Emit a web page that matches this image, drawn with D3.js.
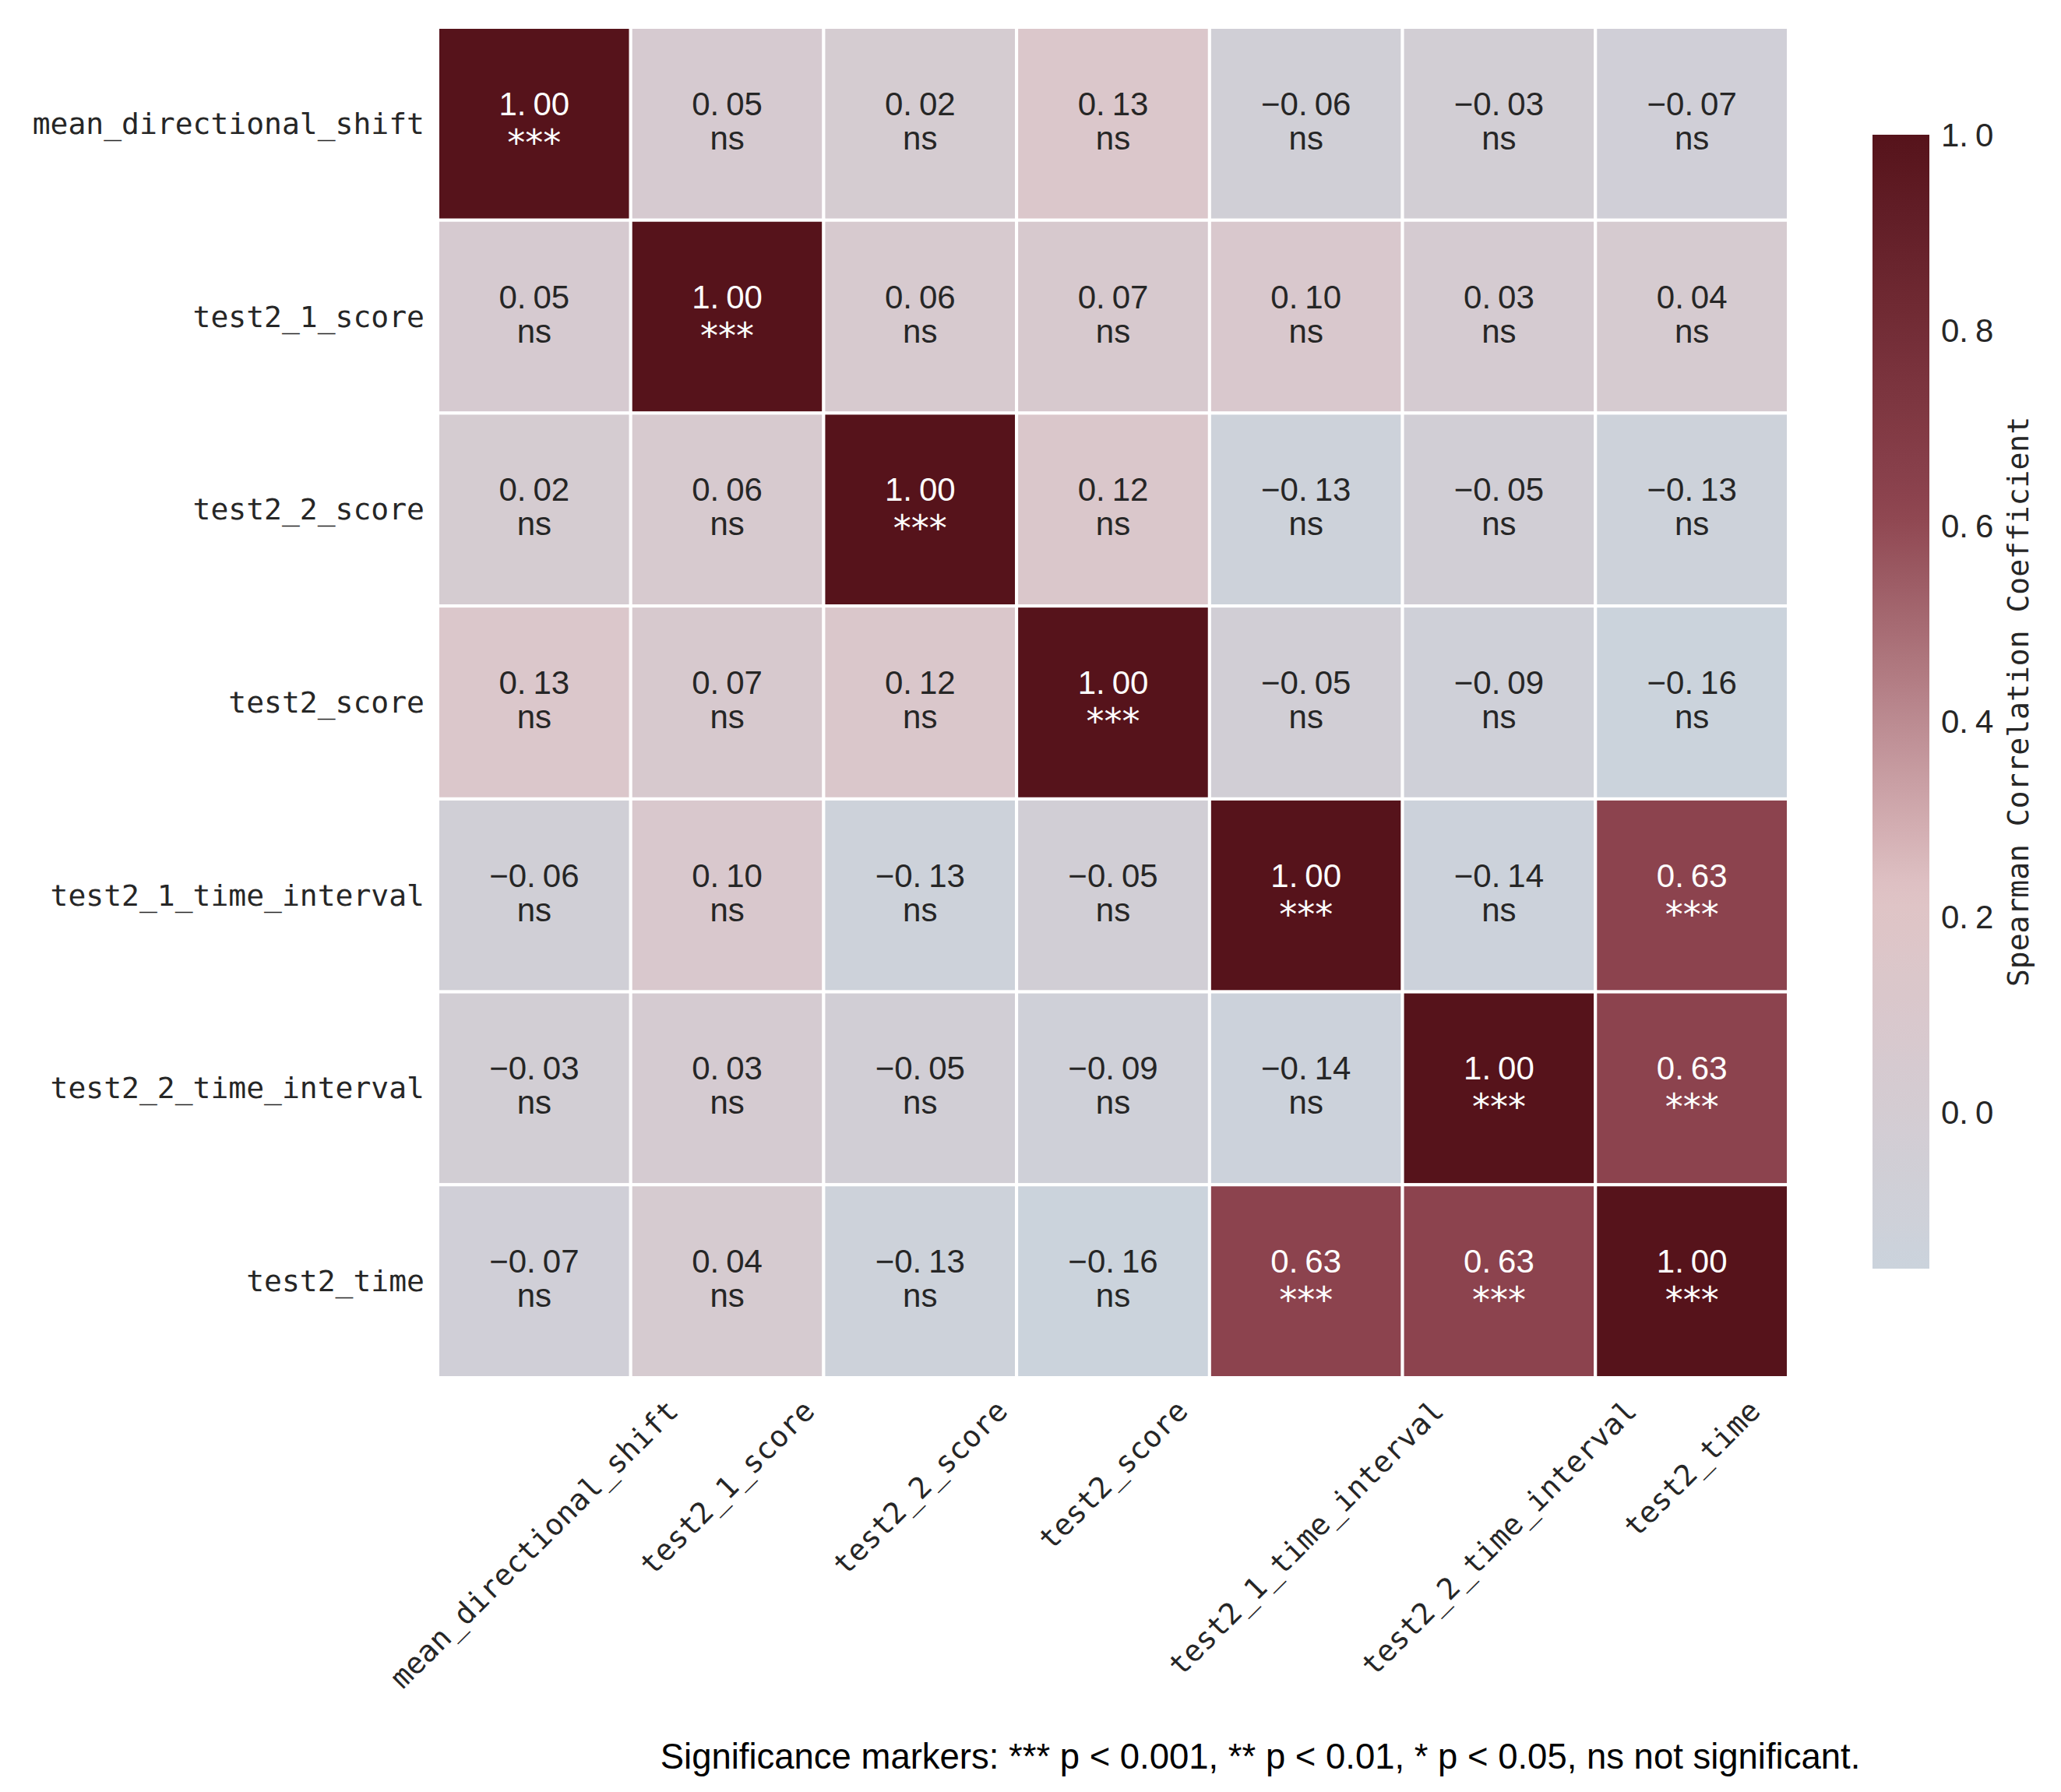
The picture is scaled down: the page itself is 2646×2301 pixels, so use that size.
<!DOCTYPE html>
<html>
<head>
  <meta charset="utf-8">
  <title>Spearman Correlation Heatmap</title>
  <style>
    body { margin: 0; background: #fff; }
    text { fill: #262626; }
  </style>
</head>
<body>
  <script src="https://d3js.org/d3.v7.min.js"></script>
  <script>
    // variables (same order for rows and columns)
    const variables = [
      "mean_directional_shift",
      "test2_1_score",
      "test2_2_score",
      "test2_score",
      "test2_1_time_interval",
      "test2_2_time_interval",
      "test2_time"
    ];

    // spearman coefficients, row by row
    const corrValues = [
      [1.00, 0.05, 0.02, 0.13, -0.06, -0.03, -0.07],
      [0.05, 1.00, 0.06, 0.07, 0.10, 0.03, 0.04],
      [0.02, 0.06, 1.00, 0.12, -0.13, -0.05, -0.13],
      [0.13, 0.07, 0.12, 1.00, -0.05, -0.09, -0.16],
      [-0.06, 0.10, -0.13, -0.05, 1.00, -0.14, 0.63],
      [-0.03, 0.03, -0.05, -0.09, -0.14, 1.00, 0.63],
      [-0.07, 0.04, -0.13, -0.16, 0.63, 0.63, 1.00]
    ];

    // significance markers, row by row
    const sigMarkers = [
      ["***", "ns", "ns", "ns", "ns", "ns", "ns"],
      ["ns", "***", "ns", "ns", "ns", "ns", "ns"],
      ["ns", "ns", "***", "ns", "ns", "ns", "ns"],
      ["ns", "ns", "ns", "***", "ns", "ns", "ns"],
      ["ns", "ns", "ns", "ns", "***", "ns", "***"],
      ["ns", "ns", "ns", "ns", "ns", "***", "***"],
      ["ns", "ns", "ns", "ns", "***", "***", "***"]
    ];

    const colorbarTicks = [0.0, 0.2, 0.4, 0.6, 0.8, 1.0];
    const colorbarLabel = "Spearman Correlation Coefficient";
    const footnote = "Significance markers: *** p < 0.001, ** p < 0.01, * p < 0.05, ns not significant.";

    const width = 2646, height = 2301;
    const hmLeft = 562, hmTop = 35, hmSize = 1734;
    const labelFont = "'DejaVu Sans Mono', 'Liberation Mono', monospace";
    const numFont = "'Liberation Sans', Arial, sans-serif";

    const svg = d3.select("body")
      .append("svg")
      .attr("width", width)
      .attr("height", height);

    svg.append("rect")
      .attr("width", width)
      .attr("height", height)
      .attr("fill", "#fff");

    const x = d3.scaleBand().domain(variables).range([hmLeft, hmLeft + hmSize]);
    const y = d3.scaleBand().domain(variables).range([hmTop, hmTop + hmSize]);

    const vmin = d3.min(corrValues.flat());
    const vmax = 1.0;
    const step = (vmax - vmin) / 3;
    const color = d3.scaleLinear()
      .domain([vmin, vmin + step, vmin + 2 * step, vmax])
      .range(["#cbd3dc", "#e0c3c5", "#8e4550", "#56131b"])
      .interpolate(d3.interpolateRgb)
      .clamp(true);

    const cells = [];
    variables.forEach(function(r, i) {
      variables.forEach(function(c, j) {
        cells.push({ row: r, col: c, value: corrValues[i][j], sig: sigMarkers[i][j] });
      });
    });

    const fmt2 = d3.format(".2f");
    const fmt1 = d3.format(".1f");

    // the period in the original is rendered extra wide
    function wideNumber(sel, str, gap) {
      const parts = str.split(".");
      sel.append("tspan").text(parts[0] + ".");
      sel.append("tspan").attr("dx", gap).text(parts[1]);
    }

    const g = svg.append("g");

    g.selectAll("rect.cell")
      .data(cells)
      .enter()
      .append("rect")
      .attr("class", "cell")
      .attr("x", function(d) { return x(d.col); })
      .attr("y", function(d) { return y(d.row); })
      .attr("width", x.bandwidth())
      .attr("height", y.bandwidth())
      .attr("fill", function(d) { return color(d.value); })
      .attr("stroke", "#fff")
      .attr("stroke-width", 4);

    function textColor(d) {
      return d3.lab(color(d.value)).l < 50 ? "#ffffff" : "#262626";
    }

    const annot = g.selectAll("g.annot")
      .data(cells)
      .enter()
      .append("g")
      .attr("class", "annot")
      .attr("transform", function(d) {
        return "translate(" + (x(d.col) + x.bandwidth() / 2) + "," + (y(d.row) + y.bandwidth() / 2) + ")";
      });

    annot.append("text")
      .attr("text-anchor", "middle")
      .attr("y", -11)
      .style("font-family", numFont)
      .style("font-size", "42px")
      .style("fill", textColor)
      .each(function(d) { wideNumber(d3.select(this), fmt2(d.value), 9); });

    annot.append("text")
      .attr("text-anchor", "middle")
      .attr("y", function(d) { return d.sig === "ns" ? 33 : 40; })
      .style("font-family", function(d) { return d.sig === "ns" ? numFont : "'DejaVu Sans', sans-serif"; })
      .style("font-size", function(d) { return d.sig === "ns" ? "42px" : "46px"; })
      .style("fill", textColor)
      .text(function(d) { return d.sig; });

    // y labels
    svg.append("g")
      .selectAll("text")
      .data(variables)
      .enter()
      .append("text")
      .attr("x", hmLeft - 17)
      .attr("y", function(d) { return y(d) + y.bandwidth() / 2; })
      .attr("text-anchor", "end")
      .attr("dominant-baseline", "central")
      .style("font-family", labelFont)
      .style("font-size", "38px")
      .text(function(d) { return d; });

    // x labels, rotated 45 and centred on the column
    const xLabels = svg.append("g")
      .selectAll("text")
      .data(variables)
      .enter()
      .append("text")
      .attr("text-anchor", "middle")
      .attr("dominant-baseline", "central")
      .style("font-family", labelFont)
      .style("font-size", "38px")
      .text(function(d) { return d; });

    xLabels.attr("transform", function(d) {
      const L = this.getComputedTextLength();
      const cy = hmTop + hmSize + 26 + Math.SQRT1_2 * (L / 2 + 14);
      return "translate(" + (x(d) + x.bandwidth() / 2) + "," + cy + ") rotate(-45)";
    });

    // colorbar
    const cbX = 2404, cbW = 73;
    const cbY = d3.scaleLinear().domain([vmin, vmax]).range([1629, 173]);

    const grad = svg.append("defs")
      .append("linearGradient")
      .attr("id", "cbgrad")
      .attr("x1", 0).attr("y1", 1)
      .attr("x2", 0).attr("y2", 0);

    grad.selectAll("stop")
      .data(d3.range(0, 1.0001, 0.02))
      .enter()
      .append("stop")
      .attr("offset", function(t) { return t; })
      .attr("stop-color", function(t) { return color(vmin + t * (vmax - vmin)); });

    svg.append("rect")
      .attr("x", cbX)
      .attr("y", cbY(vmax))
      .attr("width", cbW)
      .attr("height", cbY(vmin) - cbY(vmax))
      .attr("fill", "url(#cbgrad)");

    svg.append("g")
      .selectAll("text")
      .data(colorbarTicks)
      .enter()
      .append("text")
      .attr("x", cbX + cbW + 15)
      .attr("y", function(d) { return cbY(d); })
      .attr("dominant-baseline", "central")
      .style("font-family", numFont)
      .style("font-size", "42px")
      .each(function(d) { wideNumber(d3.select(this), fmt1(d), 9); });

    svg.append("text")
      .attr("transform", "translate(2604," + ((cbY(vmax) + cbY(vmin)) / 2) + ") rotate(-90)")
      .attr("text-anchor", "middle")
      .style("font-family", labelFont)
      .style("font-size", "38px")
      .text(colorbarLabel);

    // footnote
    const note = svg.append("text")
      .attr("x", 1618)
      .attr("y", 2271)
      .attr("text-anchor", "middle")
      .style("font-family", numFont)
      .style("font-size", "38px")
      .style("fill", "#000")
      .text(footnote);
    const noteLen = note.node().getComputedTextLength();
    note.style("font-size", (38 * 1541 / noteLen) + "px");
  </script>
</body>
</html>
